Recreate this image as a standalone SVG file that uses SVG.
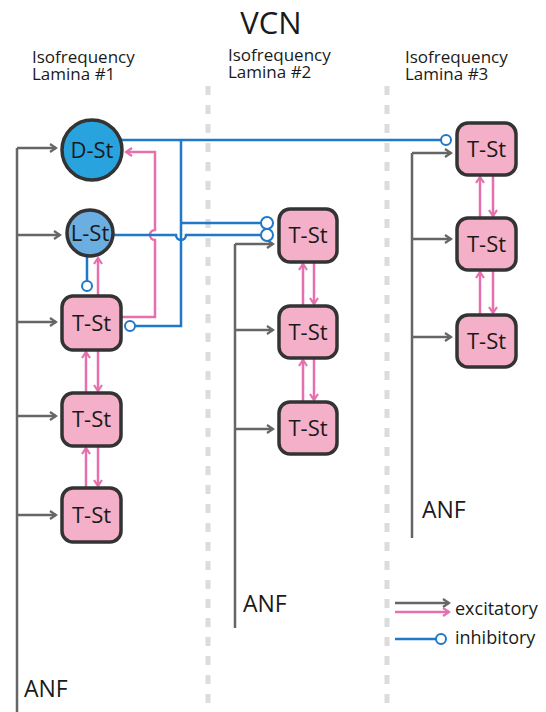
<svg xmlns="http://www.w3.org/2000/svg" width="546" height="712" viewBox="0 0 546 712">
<style>
text{font-family:"Open Sans","Noto Sans","DejaVu Sans",sans-serif;fill:#1a1a1a}
.title{font-size:31px;text-anchor:middle}
.lam{font-size:17px}
.lbl{font-size:22px;text-anchor:middle}
.anf{font-size:23px}
.leg{font-size:18px}
.sep{stroke:#dcdcdc;stroke-width:5;stroke-dasharray:9 10;fill:none}
.tst{fill:#f4b0c8;stroke:#333;stroke-width:3.5}
.dst{fill:#28a3de;stroke:#333;stroke-width:3.5}
.lst{fill:#6aaee2;stroke:#333;stroke-width:3.5}
.exc{stroke:#666;stroke-width:2.5;fill:none;marker-end:url(#ag)}
.anfl{stroke:#666;stroke-width:2.5;fill:none}
.pk{stroke:#e66fae;stroke-width:2.5;fill:none;marker-end:url(#ap)}
.inh{stroke:#1f78c8;stroke-width:2.5;fill:none}
.bub{stroke:#1f78c8;stroke-width:2;fill:#fff}
</style>
<defs>
<marker id="ag" viewBox="0 0 10 10" refX="8" refY="5" markerWidth="10" markerHeight="10" markerUnits="userSpaceOnUse" orient="auto"><path d="M2,1 L8,5 L2,9" fill="none" stroke="#666" stroke-width="2.2"/></marker>
<marker id="ap" viewBox="0 0 10 10" refX="8" refY="5" markerWidth="10" markerHeight="10" markerUnits="userSpaceOnUse" orient="auto"><path d="M2,1 L8,5 L2,9" fill="none" stroke="#e66fae" stroke-width="2.2"/></marker>
</defs>

<g id="titles">
<text class="title" x="271" y="34">VCN</text>
<text class="lam"><tspan x="32" y="63">Isofrequency</tspan><tspan x="32" y="80">Lamina #1</tspan></text>
<text class="lam"><tspan x="228" y="61">Isofrequency</tspan><tspan x="228" y="78">Lamina #2</tspan></text>
<text class="lam"><tspan x="405" y="63">Isofrequency</tspan><tspan x="405" y="80">Lamina #3</tspan></text>
</g>

<g id="separators">
<line class="sep" x1="208" y1="86" x2="208" y2="712"/>
<line class="sep" x1="387" y1="86" x2="387" y2="712"/>
</g>

<g id="connectors">
<path class="anfl" d="M17,712 V148"/>
<path class="exc" d="M17,148 H56"/>
<path class="exc" d="M17,235 H60"/>
<path class="exc" d="M17,322 H56"/>
<path class="exc" d="M17,416 H56"/>
<path class="exc" d="M17,515 H56"/>
<path class="anfl" d="M235,628 V244"/>
<path class="exc" d="M235,244 H273"/>
<path class="exc" d="M235,330 H273"/>
<path class="exc" d="M235,429 H273"/>
<path class="anfl" d="M412,538 V153"/>
<path class="exc" d="M412,153 H451"/>
<path class="exc" d="M412,239 H451"/>
<path class="exc" d="M412,337 H451"/>

<path class="pk" d="M86,393 V352"/>
<path class="pk" d="M98,350 V391"/>
<path class="pk" d="M86,488 V448"/>
<path class="pk" d="M98,446 V486"/>
<path class="pk" d="M98,296 V258"/>
<path class="pk" d="M121,317 H155 V240 A5,5 0 0 1 155,230 V152 H126"/>
<path class="pk" d="M303,306 V264"/>
<path class="pk" d="M314,262 V304"/>
<path class="pk" d="M303,402 V360"/>
<path class="pk" d="M314,358 V400"/>
<path class="pk" d="M480,218 V177"/>
<path class="pk" d="M493,175 V216"/>
<path class="pk" d="M480,315 V272"/>
<path class="pk" d="M493,270 V313"/>

<path class="inh" d="M87,256 V281"/>
<circle class="bub" cx="87" cy="286" r="5"/>
<path class="inh" d="M120,140 H441"/>
<circle class="bub" cx="446" cy="140" r="5"/>
<path class="inh" d="M181,140 V326 H135"/>
<circle class="bub" cx="130" cy="326" r="5"/>
<path class="inh" d="M181,223 H261"/>
<circle class="bub" cx="267" cy="223" r="6"/>
<path class="inh" d="M113,235 H176 A5,5 0 0 0 186,235 H261"/>
<circle class="bub" cx="267" cy="235" r="6"/>
</g>

<g id="lamina1">
<g id="d-st"><circle class="dst" cx="92" cy="150" r="30"/><text class="lbl" x="92" y="158">D-St</text></g>
<g id="l-st"><circle class="lst" cx="90" cy="233" r="23"/><text class="lbl" x="90" y="241">L-St</text></g>
<g id="t-st-1a"><rect class="tst" x="62" y="296" width="59" height="54" rx="11"/><text class="lbl" x="91.5" y="331">T-St</text></g>
<g id="t-st-1b"><rect class="tst" x="62" y="393" width="59" height="53" rx="11"/><text class="lbl" x="91.5" y="427">T-St</text></g>
<g id="t-st-1c"><rect class="tst" x="62" y="488" width="59" height="54" rx="11"/><text class="lbl" x="91.5" y="523">T-St</text></g>
<text class="anf" x="24" y="697">ANF</text>
</g>

<g id="lamina2">
<g id="t-st-2a"><rect class="tst" x="279" y="209" width="58" height="53" rx="11"/><text class="lbl" x="308" y="243">T-St</text></g>
<g id="t-st-2b"><rect class="tst" x="279" y="306" width="58" height="52" rx="11"/><text class="lbl" x="308" y="340">T-St</text></g>
<g id="t-st-2c"><rect class="tst" x="279" y="402" width="58" height="52" rx="11"/><text class="lbl" x="308" y="436">T-St</text></g>
<text class="anf" x="243" y="612">ANF</text>
</g>

<g id="lamina3">
<g id="t-st-3a"><rect class="tst" x="457" y="123" width="59" height="52" rx="11"/><text class="lbl" x="486.5" y="157">T-St</text></g>
<g id="t-st-3b"><rect class="tst" x="457" y="218" width="59" height="52" rx="11"/><text class="lbl" x="486.5" y="252">T-St</text></g>
<g id="t-st-3c"><rect class="tst" x="457" y="315" width="59" height="52" rx="11"/><text class="lbl" x="486.5" y="349">T-St</text></g>
<text class="anf" x="422" y="518">ANF</text>
</g>

<g id="legend">
<path class="exc" d="M395,603 H449"/>
<path class="pk" d="M395,612 H449"/>
<path class="inh" d="M395,639 H436"/>
<circle class="bub" cx="441" cy="639" r="5"/>
<text class="leg" x="455" y="615">excitatory</text>
<text class="leg" x="455" y="644">inhibitory</text>
</g>
</svg>
